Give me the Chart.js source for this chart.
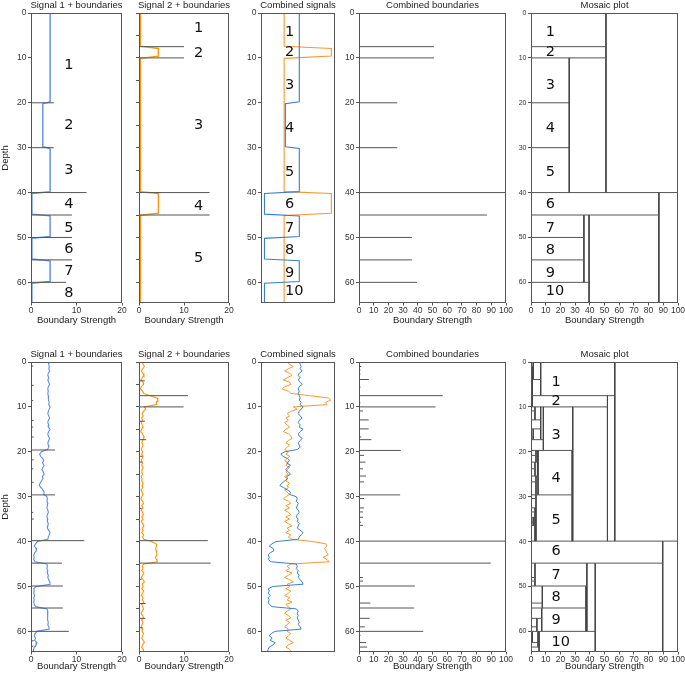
<!DOCTYPE html>
<html>
<head>
<meta charset="utf-8">
<script src="https://cdn.jsdelivr.net/npm/chart.js@4"></script>
<style>
  html, body { margin: 0; padding: 0; background: #fff; overflow: hidden; }
  body { position: relative; width: 685px; height: 673px; }
  canvas { position: absolute; }
</style>
</head>
<body>
<script>
// ---------- data ----------
const depthMax = 64.6;

// top row: idealised signals (depth, value)
const sig1TopDepth = [0, 19.8, 20.2, 29.8, 30.2, 39.8, 40.2, 44.8, 45.2, 49.8, 50.2, 54.8, 55.2, 59.8, 60.2, 64.6];
const sig1TopValue = [4.2, 4.2, 2.6, 2.6, 4.2, 4.2, 0.2, 0.2, 4.2, 4.2, 0.2, 0.2, 4.2, 4.2, 0.2, 0.2];
const sig2TopDepth = [0, 7.4, 7.9, 9.6, 10.1, 39.8, 40.2, 44.6, 45.1, 64.6];
const sig2TopValue = [0.3, 0.3, 4.3, 4.3, 0.3, 0.3, 4.3, 4.3, 0.3, 0.3];

// top row boundaries
const b1TopDepth = [20, 30, 40, 45, 50, 55, 60];
const b1TopStrength = [5, 5, 12.2, 9, 9, 9, 7.7];
const b2TopDepth = [7.5, 10, 40, 45];
const b2TopStrength = [10, 10, 15.7, 15.7];
const bcTopDepth = [7.5, 10, 20, 30, 40, 45, 50, 55, 60];
const bcTopStrength = [51, 51, 26, 26, 100, 87, 36, 36, 39.5];

// bottom row: noisy signals sampled every 0.5 depth units
const sig1Bottom = [
  3.8, 3.9, 4.0, 3.9, 4.1, 3.8, 3.7, 3.9, 3.7, 3.9, 4.1, 3.8,
  3.7, 3.8, 3.7, 3.8, 3.9, 3.8, 4.0, 3.9, 4.2, 4.0, 3.8, 3.7,
  3.9, 4.1, 3.8, 3.7, 3.9, 3.8, 4.2, 3.9, 3.7, 3.8, 4.1, 3.9,
  3.7, 3.8, 3.9, 3.6,
  2.3, 1.9, 2.1, 2.6, 2.8, 2.5, 2.9, 2.6, 2.4, 2.7, 2.9, 2.5, 2.6, 2.3, 2.0, 1.8, 2.2, 2.6, 2.9, 2.8,
  3.5, 3.6, 3.5, 3.7, 3.6, 3.5, 3.7, 3.8, 3.6, 3.5, 3.7, 3.6, 3.8, 3.7, 3.6, 3.9, 4.2, 4.0, 3.8, 3.7,
  1.4, 1.0, 0.7, 1.1, 1.2, 0.8, 0.6, 0.7, 0.6, 0.9,
  3.5, 3.6, 3.5, 3.7, 3.6, 3.8, 3.7, 3.9, 4.1, 4.2,
  1.1, 0.6, 0.7, 0.6, 0.8, 0.6, 0.7, 0.6, 0.7, 1.0,
  3.5, 3.7, 3.6, 3.7, 3.6, 3.7, 3.8, 3.7, 3.9, 4.0,
  1.3, 0.9, 0.7, 1.0, 0.8, 1.3, 1.1, 0.7, 0.6, 0.5
];
const sig2Bottom = [
  0.7, 0.9, 1.2, 0.8, 0.5, 0.9, 1.1, 0.7, 0.4, 0.9, 1.0, 0.5, 0.3, 0.8, 1.0,
  2.5, 4.0, 4.2, 3.8, 3.9,
  1.2, 1.5, 1.0, 0.7, 0.9, 0.6, 0.8, 0.5, 0.7, 0.9,
  0.6, 0.4, 0.8, 1.0, 1.1, 0.8, 0.6, 0.9, 0.7, 0.5,
  0.8, 0.6, 0.9, 0.7, 0.5, 0.8, 0.6, 0.9, 0.7, 0.6,
  0.8, 0.5, 0.7, 0.6, 0.9, 0.7, 0.8, 0.5, 0.7, 0.9,
  0.6, 0.4, 0.8, 1.0, 0.6, 0.9, 0.5, 0.8, 1.0, 0.6,
  0.9, 0.5, 0.8, 1.1, 0.7, 0.9, 0.6, 1.0, 0.8, 1.1,
  2.8, 3.8, 3.9, 3.7, 3.8, 3.9, 4.0, 3.6, 3.9, 4.1,
  1.0, 0.7, 0.9, 0.6, 1.1, 0.8, 0.5, 0.9, 1.2, 0.7,
  0.9, 0.6, 1.0, 0.8, 0.5, 0.9, 0.7, 1.1, 0.6, 0.8,
  1.0, 0.7, 0.5, 0.8, 1.0, 0.6, 0.9, 0.7, 0.5, 0.8,
  0.7, 1.0, 0.8, 0.6, 0.9, 1.2, 0.8, 0.6, 0.9, 1.0
];
const bottomDepth = sig1Bottom.map((_, i) => i * 0.5);

// bottom row boundaries
const b1BotDepth = [0.9, 5.2, 8.6, 13.0, 14.5, 16.7, 19.6, 21.8, 23.8, 26.8, 29.6, 33.5, 35.0, 39.8, 44.8, 49.9, 54.8, 60.0, 62.1, 63.3];
const b1BotStrength = [0.5, 0.6, 0.5, 0.6, 0.5, 0.6, 5.3, 0.6, 0.5, 0.6, 5.3, 0.5, 0.6, 11.7, 6.8, 7.0, 7.0, 8.3, 0.6, 0.5];
const b2BotDepth = [4.2, 7.5, 10.0, 13.2, 17.3, 21.0, 22.3, 32.6, 39.8, 44.8, 48.4, 53.8, 57.1, 59.2];
const b2BotStrength = [1.3, 10.9, 9.9, 1.3, 1.6, 0.8, 0.8, 0.6, 15.3, 15.9, 0.6, 1.5, 1.4, 0.8];
const bcBotDepth = [1.0, 1.8, 2.7, 3.9, 5.6, 7.5, 9.1, 10.0, 10.9, 12.9, 14.9, 16.7, 17.3, 19.7, 20.8, 22.3, 23.8, 25.4, 26.7,
  29.6, 30.4, 32.5, 33.4, 34.6, 35.7, 36.4, 39.9, 44.8, 48.0, 48.8, 49.9, 53.7, 54.8, 57.1, 59.0, 60.0, 60.9, 62.5, 63.5];
const bcBotStrength = [1.5, 1.0, 1.0, 6.6, 1.0, 57, 1.0, 52, 2.7, 6.6, 6.6, 1.5, 8.4, 28.4, 3.4, 4.4, 2.7, 4.8, 3.4,
  28, 3.4, 3.4, 2.7, 2.7, 1.5, 2.7, 100, 89.6, 2.7, 2.7, 38, 7.7, 37.4, 7.3, 4.0, 43.7, 1.0, 4.8, 5.5];

// region label depths
const sig1TopLabelDepth = [11.6, 25.1, 35.1, 42.6, 48.0, 52.6, 57.6, 62.5];
const sig2TopLabelDepth = [3.3, 8.9, 24.9, 43.0, 54.6];
const mosaicTopLabelDepth = [4.2, 8.7, 16.0, 25.6, 35.5, 42.5, 47.9, 52.9, 57.9, 62.0];
const mosaicBotLabelDepth = [4.5, 8.7, 16.4, 26.0, 35.2, 42.2, 47.6, 52.4, 57.5, 62.5];

// ---------- helpers ----------
const FONT = "'Liberation Sans', Arial, sans-serif";
const REGION_FONT = "'DejaVu Sans', sans-serif";
const LINE = '#555';

function pts(depths, values) {
  return depths.map((d, i) => ({ x: values[i], y: d }));
}

function lineSet(points, color, width, axis) {
  return {
    data: points, borderColor: color, borderWidth: width, pointRadius: 0,
    showLine: true, fill: false, tension: 0, xAxisID: axis || 'x'
  };
}

function boundarySets(depths, strengths) {
  return depths.map((d, i) => lineSet([{ x: 0, y: d }, { x: strengths[i], y: d }], LINE, 1));
}

// mosaic: each boundary is a horizontal edge, plus a vertical edge at its
// strength spanning to the nearest stronger boundary above and below
function mosaicSets(depths, strengths) {
  const sets = boundarySets(depths, strengths);
  const seen = new Set();
  depths.forEach((d, i) => {
    const s = strengths[i];
    let top = 0, bottom = depthMax;
    for (let j = i - 1; j >= 0; j--) if (strengths[j] > s) { top = depths[j]; break; }
    for (let j = i + 1; j < depths.length; j++) if (strengths[j] > s) { bottom = depths[j]; break; }
    const key = s + ':' + top + ':' + bottom;
    if (seen.has(key)) return;
    seen.add(key);
    sets.push(lineSet([{ x: s, y: top }, { x: s, y: bottom }], '#444', 1));
  });
  return sets;
}

const panelDecor = {
  id: 'panelDecor',
  afterDatasetsDraw(chart, args, opts) {
    const { ctx, chartArea: a } = chart;
    ctx.save();
    ctx.strokeStyle = LINE;
    ctx.lineWidth = 1;
    ctx.strokeRect(a.left + 0.5, a.top + 0.5, a.right - a.left - 1, a.bottom - a.top - 1);
    ctx.fillStyle = '#222';
    ctx.font = '9.5px ' + FONT;
    ctx.textAlign = 'center';
    ctx.textBaseline = 'middle';
    ctx.fillText(opts.title, (a.left + a.right) / 2, a.top - 8);
    if (opts.labels) {
      const xs = chart.scales[opts.labels.axis];
      const ys = chart.scales.y;
      ctx.fillStyle = '#111';
      ctx.font = '14.5px ' + REGION_FONT;
      ctx.textAlign = 'left';
      opts.labels.depths.forEach((d, i) => {
        ctx.fillText(String(i + 1), xs.getPixelForValue(opts.labels.x), ys.getPixelForValue(d));
      });
    }
    ctx.restore();
  }
};

function panel(cfg) {
  const top = cfg.row === 0;
  const T = top ? 13 : 362, B = top ? 303 : 652;
  const padTop = top ? 13 : 20;
  const padRight = 10;
  const xh = top ? 24 : 21;
  const w = cfg.R - cfg.L + cfg.yw + padRight;
  const h = B - T + padTop + xh;

  const canvas = document.createElement('canvas');
  canvas.width = w; canvas.height = h;
  canvas.style.left = (cfg.L - cfg.yw) + 'px';
  canvas.style.top = (T - padTop) + 'px';
  canvas.style.width = w + 'px';
  canvas.style.height = h + 'px';
  document.body.appendChild(canvas);

  const scales = {
    y: {
      type: 'linear', reverse: true, min: 0, max: depthMax,
      afterFit: s => { s.width = cfg.yw; },
      ticks: {
        stepSize: cfg.yStep || 10, includeBounds: false, autoSkip: false,
        color: '#333', padding: 1.5, font: { family: FONT, size: cfg.yFont || 8.5 },
        callback: cfg.yLabels ? (v => String(v)) : (() => '')
      },
      grid: { drawOnChartArea: false, tickLength: 3, color: LINE },
      border: { display: false },
      title: {
        display: !!cfg.depthTitle, text: 'Depth', color: '#222', padding: 0,
        font: { family: FONT, size: 9.5 }
      }
    }
  };
  if (cfg.xMax) {
    scales.x = {
      type: 'linear', min: 0, max: cfg.xMax,
      afterFit: s => { s.height = xh; },
      ticks: {
        stepSize: cfg.xStep, includeBounds: false, autoSkip: false, maxRotation: 0,
        color: '#333', padding: 0, font: { family: FONT, size: 8.5 }
      },
      grid: { drawOnChartArea: false, tickLength: 2.5, color: LINE },
      border: { display: false },
      title: {
        display: true, text: 'Boundary Strength', color: '#222',
        padding: { top: 0, bottom: 1 }, font: { family: FONT, size: 9.5 }
      }
    };
  }
  if (cfg.hidden) {
    Object.keys(cfg.hidden).forEach(id => {
      scales[id] = { type: 'linear', axis: 'x', display: false, min: cfg.hidden[id][0], max: cfg.hidden[id][1] };
    });
  }

  new Chart(canvas, {
    type: 'scatter',
    data: { datasets: cfg.datasets },
    options: {
      responsive: false, animation: false, events: [], devicePixelRatio: 1,
      layout: { padding: { top: padTop, right: padRight, left: 0, bottom: cfg.xMax ? 0 : xh } },
      scales,
      plugins: {
        legend: { display: false }, tooltip: { enabled: false },
        panelDecor: { title: cfg.title, labels: cfg.labels }
      }
    },
    plugins: [panelDecor]
  });
}

// ---------- colours ----------
const BLUE1 = '#5c8ee8', ORANGE1 = '#ff9410';
const BLUE2 = '#3a80c8', ORANGE2 = '#f7992f';

// ---------- top row ----------
panel({
  row: 0, L: 31, R: 122, yw: 31, xMax: 20, xStep: 10, yLabels: true, depthTitle: true,
  title: 'Signal 1 + boundaries',
  datasets: [...boundarySets(b1TopDepth, b1TopStrength), lineSet(pts(sig1TopDepth, sig1TopValue), BLUE1, 1.4)],
  labels: { axis: 'x', x: 7.3, depths: sig1TopLabelDepth }
});
panel({
  row: 0, L: 139, R: 229, yw: 10, xMax: 20, xStep: 10, yLabels: false, yStep: 5,
  title: 'Signal 2 + boundaries',
  datasets: [...boundarySets(b2TopDepth, b2TopStrength), lineSet(pts(sig2TopDepth, sig2TopValue), ORANGE1, 1.4)],
  labels: { axis: 'x', x: 12.2, depths: sig2TopLabelDepth }
});
panel({
  row: 0, L: 261, R: 335, yw: 31, yLabels: true,
  title: 'Combined signals',
  hidden: { xb: [-0.2, 8.3], xo: [-1.66, 4.61] },
  datasets: [
    lineSet(pts(sig1TopDepth, sig1TopValue), BLUE2, 1.1, 'xb'),
    lineSet(pts(sig2TopDepth, sig2TopValue), ORANGE2, 1.1, 'xo')
  ],
  labels: { axis: 'xb', x: 2.56, depths: mosaicTopLabelDepth }
});
panel({
  row: 0, L: 359, R: 506, yw: 31, xMax: 100, xStep: 10, yLabels: true,
  title: 'Combined boundaries',
  datasets: boundarySets(bcTopDepth, bcTopStrength)
});
panel({
  row: 0, L: 531, R: 678, yw: 24, xMax: 100, xStep: 10, yLabels: true, yFont: 7,
  title: 'Mosaic plot',
  datasets: mosaicSets(bcTopDepth, bcTopStrength),
  labels: { axis: 'x', x: 10, depths: mosaicTopLabelDepth }
});

// ---------- bottom row ----------
panel({
  row: 1, L: 31, R: 122, yw: 31, xMax: 20, xStep: 10, yLabels: true, depthTitle: true,
  title: 'Signal 1 + boundaries',
  datasets: [...boundarySets(b1BotDepth, b1BotStrength), lineSet(pts(bottomDepth, sig1Bottom), BLUE1, 1.1)]
});
panel({
  row: 1, L: 139, R: 229, yw: 10, xMax: 20, xStep: 10, yLabels: false, yStep: 5,
  title: 'Signal 2 + boundaries',
  datasets: [...boundarySets(b2BotDepth, b2BotStrength), lineSet(pts(bottomDepth, sig2Bottom), ORANGE1, 1.1)]
});
panel({
  row: 1, L: 261, R: 335, yw: 31, yLabels: true,
  title: 'Combined signals',
  hidden: { xb: [-0.15, 7.5], xo: [-1.4, 4.55] },
  datasets: [
    lineSet(pts(bottomDepth, sig1Bottom), BLUE2, 1.0, 'xb'),
    lineSet(pts(bottomDepth, sig2Bottom), ORANGE2, 1.0, 'xo')
  ]
});
panel({
  row: 1, L: 359, R: 506, yw: 31, xMax: 100, xStep: 10, yLabels: true,
  title: 'Combined boundaries',
  datasets: boundarySets(bcBotDepth, bcBotStrength)
});
panel({
  row: 1, L: 531, R: 678, yw: 24, xMax: 100, xStep: 10, yLabels: true, yFont: 7,
  title: 'Mosaic plot',
  datasets: mosaicSets(bcBotDepth, bcBotStrength),
  labels: { axis: 'x', x: 14, depths: mosaicBotLabelDepth }
});
</script>
</body>
</html>
